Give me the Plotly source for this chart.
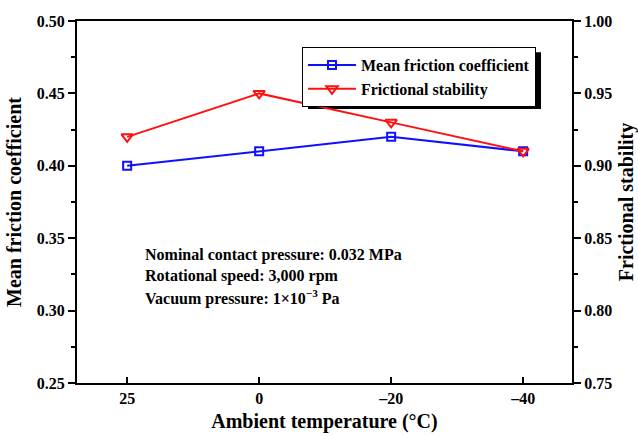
import plotly.graph_objects as go

categories = ["25", "0", "–20", "–40"]
mean_friction = [0.40, 0.41, 0.42, 0.41]
frictional_stability = [0.92, 0.95, 0.93, 0.91]

FONT = "Liberation Serif"

def bold(size):
    return dict(family=FONT, size=size, color="black", weight="bold")

fig = go.Figure()
fig.add_trace(go.Scatter(
    x=categories, y=mean_friction, name="Mean friction coefficient",
    mode="lines+markers",
    line=dict(color="#1010ff", width=2),
    marker=dict(symbol="square-open", size=8, color="#1010ff", line=dict(width=2)),
))
fig.add_trace(go.Scatter(
    x=categories, y=frictional_stability, name="Frictional stability",
    mode="lines+markers", yaxis="y2",
    line=dict(color="#ff1010", width=2),
    marker=dict(symbol="triangle-down-open", size=10, color="#ff1010", line=dict(width=2)),
))

fig.update_layout(
    width=638, height=436,
    margin=dict(l=77, r=66, t=21, b=53, autoexpand=False),
    paper_bgcolor="white", plot_bgcolor="white",
    font=bold(14),
    showlegend=True,
    legend=dict(
        x=0.4545, y=0.928, xanchor="left", yanchor="top",
        bgcolor="white", bordercolor="black", borderwidth=1,
        font=bold(16),
        tracegroupgap=0, itemwidth=48,
    ),
    xaxis=dict(
        type="category", range=[-0.38, 3.37], automargin=False,
        showline=True, linecolor="black", linewidth=2, mirror=True,
        ticks="inside", ticklen=6, tickwidth=2, tickcolor="black",
        showgrid=False, zeroline=False,
        tickfont=bold(16),
        title=dict(text="Ambient temperature (°C)", font=bold(20), standoff=8),
    ),
    yaxis=dict(
        range=[0.25, 0.50], dtick=0.05, tickformat=".2f", automargin=False,
        showline=True, linecolor="black", linewidth=2,
        ticks="outside", ticklen=7, tickwidth=2, tickcolor="black",
        minor=dict(dtick=0.025, ticks="outside", ticklen=4, tickwidth=2, tickcolor="black", showgrid=False),
        showgrid=False, zeroline=False,
        tickfont=bold(16),
        title=dict(text="Mean friction coefficient", font=bold(20), standoff=10),
    ),
    yaxis2=dict(
        range=[0.75, 1.00], dtick=0.05, tickformat=".2f", automargin=False,
        overlaying="y", side="right", anchor="x",
        showline=True, linecolor="black", linewidth=2,
        ticks="outside", ticklen=7, tickwidth=2, tickcolor="black",
        minor=dict(dtick=0.025, ticks="outside", ticklen=4, tickwidth=2, tickcolor="black", showgrid=False),
        showgrid=False, zeroline=False,
        tickfont=bold(16),
        title=dict(text="Frictional stability", font=bold(20), standoff=10),
    ),
)

notes = [
    "Nominal contact pressure: 0.032 MPa",
    "Rotational speed: 3,000 rpm",
    "Vacuum pressure: 1×10<sup>−3</sup> Pa",
]
for i, t in enumerate(notes):
    fig.add_annotation(
        text=t, xref="paper", yref="paper", x=0.133, y=0.354 - i * 0.059,
        xanchor="left", yanchor="middle", showarrow=False,
        font=bold(16),
    )

# legend drop shadow
fig.add_shape(type="rect", xref="paper", yref="paper",
              x0=0.4667, x1=0.9374, y0=0.757, y1=0.914,
              fillcolor="black", line=dict(width=0), layer="below")

fig.write_html("out.html")
